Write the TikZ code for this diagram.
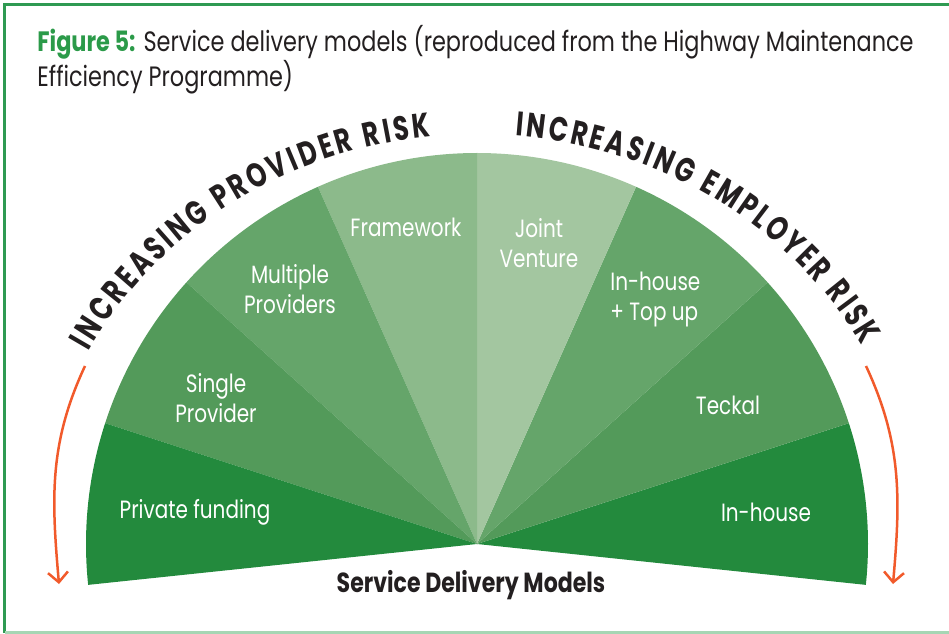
\documentclass[tikz,border=0pt]{standalone}
\usepackage{fontspec}
\setmainfont{Poppins}[FakeStretch=0.8]
\newfontfamily\arcfont{Poppins}[FakeStretch=0.74]
\usetikzlibrary{arrows.meta,decorations.text}

\definecolor{figgreen}{HTML}{2B9A49}
\definecolor{framegreen}{HTML}{2F9A52}
\definecolor{rulegreen}{HTML}{A6D6B4}
\definecolor{fandark}{HTML}{238A3D}
\definecolor{fanmid}{HTML}{539A5A}
\definecolor{fanlight}{HTML}{65A56A}
\definecolor{fanframe}{HTML}{8CBA8B}
\definecolor{fanpale}{HTML}{A3C6A0}
\definecolor{riskarrow}{HTML}{F15A2B}
\definecolor{inkblack}{HTML}{231F20}

\tikzset{
	sector label/.style={text=white, align=center, font=\fontsize{12.5}{15}\selectfont},
	risk arrow/.style={draw=riskarrow, line width=1.25pt, -{Straight Barb[length=5pt, width=10pt, line width=1.25pt]}},
	risk text/.style={decorate, decoration={text along path, text align=fit to path,
		text={|\arcfont\bfseries\fontsize{17}{17}\selectfont\color{inkblack}|#1}}}
}

\begin{document}
\begin{tikzpicture}[x=0.5pt, y=0.5pt]
	\useasboundingbox (0,0) rectangle (949,633);

	% frame
	\draw[framegreen, line width=1.5pt] (4.5,0) -- (4.5,628) -- (949,628);
	\draw[rulegreen, line width=1.5pt] (4.5,1) -- (949,1);

	% base anchor of a two-line node sits on the last line
	\node[anchor=base west, inner sep=0pt, align=left, text=inkblack, font=\fontsize{14}{16}\selectfont] (title) at (37,546)
		{{\color{figgreen}\bfseries Figure 5:} Service delivery models (reproduced from the Highway Maintenance\\Efficiency Programme)};

	% the fan
	\coordinate (C) at (477,89);
	\foreach \a/\col in {-6/fandark, 18/fanmid, 42/fanlight, 66/fanpale, 90/fanframe, 114/fanlight, 138/fanmid, 162/fandark}
		\fill[\col] (C) -- ++(\a:391) arc[start angle=\a, delta angle=24, radius=391] -- cycle;

	\node[sector label] (inhouse) at (766,121) {In-house};
	\node[sector label] (teckal) at (728,228) {Teckal};
	\node[sector label, align=left, anchor=west, inner sep=0pt] (topup) at (610,333) {In-house\\+ Top up};
	\node[sector label] (joint) at (539,390) {Joint\\Venture};
	\node[sector label] (framework) at (406,406) {Framework};
	\node[sector label] (multiple) at (290,344) {Multiple\\Providers};
	\node[sector label] (single) at (216,235) {Single\\Provider};
	\node[sector label] (private) at (195,121) {Private funding};

	\node[text=inkblack, font=\bfseries\fontsize{13.8}{15}\selectfont] (models) at (471,48) {Service Delivery Models};

	% risk captions round the fan
	\path[risk text={INCREASING PROVIDER RISK}] (C) ++(152:440 and 410) arc[start angle=152, end angle=96, x radius=440, y radius=410];
	\path[risk text={INCREASING EMPLOYER RISK}] (C) ++(85:440 and 410) arc[start angle=85, end angle=29, x radius=440, y radius=410];

	\coordinate (lefttop) at (85,267);
	\coordinate (leftend) at (59,49);
	\coordinate (righttop) at (866,267);
	\coordinate (rightend) at (893,49);
	\draw[risk arrow] (lefttop) to[out=-115, in=95] (leftend);
	\draw[risk arrow] (righttop) to[out=-65, in=85] (rightend);
\end{tikzpicture}
\end{document}
